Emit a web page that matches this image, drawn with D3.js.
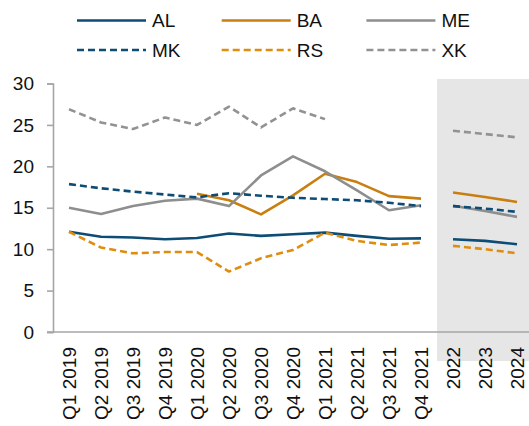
<!DOCTYPE html>
<html>
<head>
<meta charset="utf-8">
<script src="https://cdn.jsdelivr.net/npm/d3@7"></script>
<style>
  html, body { margin: 0; padding: 0; background: #fff; }
  svg { display: block; font-family: "Liberation Sans", Arial, sans-serif; }
</style>
</head>
<body>
<svg id="chart" width="529" height="426"></svg>
<script>
// Categories: twelve quarters of actuals, then three forecast years
const categories = ["Q1 2019","Q2 2019","Q3 2019","Q4 2019","Q1 2020","Q2 2020","Q3 2020","Q4 2020",
                    "Q1 2021","Q2 2021","Q3 2021","Q4 2021","2022","2023","2024"];
const forecastStart = "2022";

// Quarterly values (null = no data)
const AL = [12.1, 11.5, 11.4, 11.2, 11.35, 11.9, 11.6, 11.8, 12.0, 11.6, 11.25, 11.3];
const BA = [null, null, null, null, 16.7, 15.9, 14.2, 16.5, 19.1, 18.1, 16.4, 16.1];
const ME = [15.0, 14.25, 15.2, 15.85, 16.1, 15.2, 18.9, 21.2, 19.4, 17.1, 14.7, 15.3];
const MK = [17.85, 17.35, 16.95, 16.6, 16.25, 16.75, 16.45, 16.2, 16.05, 15.9, 15.6, 15.2];
const RS = [12.1, 10.2, 9.5, 9.65, 9.65, 7.3, 8.9, 9.9, 12.0, 11.0, 10.5, 10.8];
const XK = [26.9, 25.3, 24.5, 25.9, 25.0, 27.2, 24.7, 27.0, 25.7, null, null, null];

// Annual forecasts for 2022-2024
const AL_f = [11.2, 11.0, 10.6];
const BA_f = [16.85, 16.3, 15.7];
const ME_f = [15.25, 14.6, 13.9];
const MK_f = [15.2, 14.9, 14.5];
const RS_f = [10.4, 10.0, 9.5];
const XK_f = [24.3, 23.9, 23.5];

const yTicks = [0, 5, 10, 15, 20, 25, 30];

const seriesDefs = [
  { name: "AL", actual: AL, forecast: AL_f, color: "#0d4c75", dash: null },
  { name: "BA", actual: BA, forecast: BA_f, color: "#c97f10", dash: null },
  { name: "ME", actual: ME, forecast: ME_f, color: "#8e8e8e", dash: null },
  { name: "MK", actual: MK, forecast: MK_f, color: "#0d4c75", dash: "7,4" },
  { name: "RS", actual: RS, forecast: RS_f, color: "#df8d0e", dash: "7,4" },
  { name: "XK", actual: XK, forecast: XK_f, color: "#929292", dash: "7,4" }
];

const FONT = 19;
const svg = d3.select("#chart");
const W = 529;
const plotLeft = 53, plotTop = 83.5, plotBottom = 332;

const x = d3.scaleBand().domain(categories).range([plotLeft, plotLeft + 15 * 32]).padding(0);
const y = d3.scaleLinear().domain([0, 30]).range([plotBottom, plotTop]);
const cx = c => x(c) + x.bandwidth() / 2;

// Forecast period shading
svg.append("rect")
  .attr("x", x(forecastStart))
  .attr("y", 79)
  .attr("width", W - x(forecastStart))
  .attr("height", 361 - 79)
  .attr("fill", "#e6e6e6");

// Y axis
const yAxis = d3.axisLeft(y).tickValues(yTicks).tickSize(6).tickPadding(13);
const gy = svg.append("g").attr("transform", `translate(${plotLeft},0)`).call(yAxis);
gy.select(".domain").attr("stroke", "#a6a6a6").attr("stroke-width", 1.6);
gy.selectAll(".tick line").attr("stroke", "#a6a6a6").attr("stroke-width", 1.6);
gy.selectAll(".tick text").attr("font-size", FONT).attr("fill", "#111")
  .attr("font-family", "Liberation Sans, Arial, sans-serif");

// X axis
const xAxis = d3.axisBottom(x).tickSize(0).tickPadding(0);
const gx = svg.append("g").attr("transform", `translate(0,${plotBottom})`).call(xAxis);
gx.select(".domain").remove();
gx.append("line").attr("x1", plotLeft - 6).attr("x2", W).attr("y1", 0).attr("y2", 0)
  .attr("stroke", "#a6a6a6").attr("stroke-width", 1.6);
gx.selectAll(".tick text")
  .attr("font-size", FONT).attr("fill", "#111")
  .attr("font-family", "Liberation Sans, Arial, sans-serif")
  .attr("text-anchor", "end")
  .attr("transform", "translate(0,15) rotate(-90)")
  .attr("x", 0).attr("y", 0).attr("dy", "0.35em");

// Lines
const line = d3.line()
  .defined(d => d.v != null)
  .x(d => cx(d.c))
  .y(d => y(d.v));

const lines = svg.append("g").attr("fill", "none").attr("stroke-width", 2.6).attr("stroke-linejoin", "round");
const forecastCats = categories.slice(12);
seriesDefs.forEach(s => {
  const actualPts = s.actual.map((v, i) => ({ c: categories[i], v }));
  const forePts = s.forecast.map((v, i) => ({ c: forecastCats[i], v }));
  [actualPts, forePts].forEach(pts => {
    lines.append("path")
      .datum(pts)
      .attr("d", line)
      .attr("stroke", s.color)
      .attr("stroke-dasharray", s.dash);
  });
});

// Legend
const legend = svg.append("g");
seriesDefs.forEach((s, i) => {
  const col = i % 3, row = Math.floor(i / 3);
  const lx = 77 + col * 144.7, ly = 20.5 + row * 29.5;
  legend.append("line")
    .attr("x1", lx).attr("x2", lx + 69).attr("y1", ly).attr("y2", ly)
    .attr("stroke", s.color).attr("stroke-width", 2.6)
    .attr("stroke-dasharray", s.dash);
  legend.append("text")
    .attr("x", lx + 75).attr("y", ly).attr("dy", "0.35em")
    .attr("font-size", FONT).attr("fill", "#111")
    .text(s.name);
});
</script>
</body>
</html>
